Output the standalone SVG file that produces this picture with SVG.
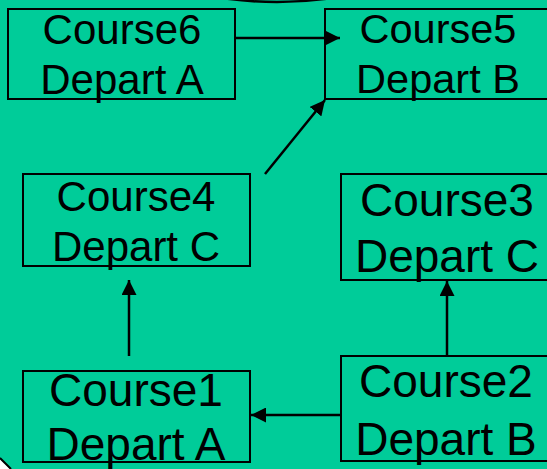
<svg xmlns="http://www.w3.org/2000/svg" width="547" height="469" viewBox="0 0 547 469">
<defs>
<style>
.box{fill:none;stroke:#000;stroke-width:2}
.t{font-family:"Liberation Sans",Arial,sans-serif;fill:#000;text-anchor:middle}
.c{stroke:#000;stroke-width:2.5;fill:none;marker-end:url(#ah)}
</style>
<marker id="ah" markerUnits="userSpaceOnUse" markerWidth="16" markerHeight="15" refX="15" refY="7.5" orient="auto">
<path d="M0,0 L15,7.5 L0,15 z" fill="#000"/>
</marker>
</defs>
<rect x="0" y="0" width="547" height="469" fill="#00CC99"/>
<path d="M222,-2 Q277,6 332,-2" fill="none" stroke="#000" stroke-width="2.5"/>
<polygon points="0,459 10,469 0,469" fill="#fff"/>
<line x1="0" y1="458" x2="11" y2="469" stroke="#000" stroke-width="2"/>

<g id="course6">
<rect class="box" x="8" y="9" width="227" height="90"/>
<text class="t" x="122" y="44" font-size="42">Course6</text>
<text class="t" x="122" y="94" font-size="42">Depart A</text>
</g>
<g id="course5">
<rect class="box" x="325" y="9" width="230" height="90"/>
<text class="t" x="438" y="43" font-size="41.5">Course5</text>
<text class="t" x="438" y="93" font-size="41.5">Depart B</text>
</g>
<g id="course4">
<rect class="box" x="23" y="174" width="227" height="92"/>
<text class="t" x="136" y="211" font-size="42">Course4</text>
<text class="t" x="136" y="261" font-size="42">Depart C</text>
</g>
<g id="course3">
<rect class="box" x="341" y="174" width="214" height="106"/>
<text class="t" x="447" y="216" font-size="46">Course3</text>
<text class="t" x="447" y="272" font-size="46">Depart C</text>
</g>
<g id="course1">
<rect class="box" x="23" y="371" width="227" height="91"/>
<text class="t" x="136" y="406" font-size="46">Course1</text>
<text class="t" x="136" y="460" font-size="46">Depart A</text>
</g>
<g id="course2">
<rect class="box" x="341" y="356" width="214" height="105"/>
<text class="t" x="446" y="397" font-size="46">Course2</text>
<text class="t" x="446" y="455" font-size="46">Depart B</text>
</g>

<g id="connectors">
<line class="c" x1="235" y1="38" x2="340" y2="38"/>
<line class="c" x1="265" y1="174" x2="325" y2="100"/>
<line class="c" x1="129" y1="356" x2="129" y2="280"/>
<line class="c" x1="447" y1="356" x2="447" y2="281"/>
<line class="c" x1="341" y1="415" x2="251" y2="415"/>
</g>
</svg>
